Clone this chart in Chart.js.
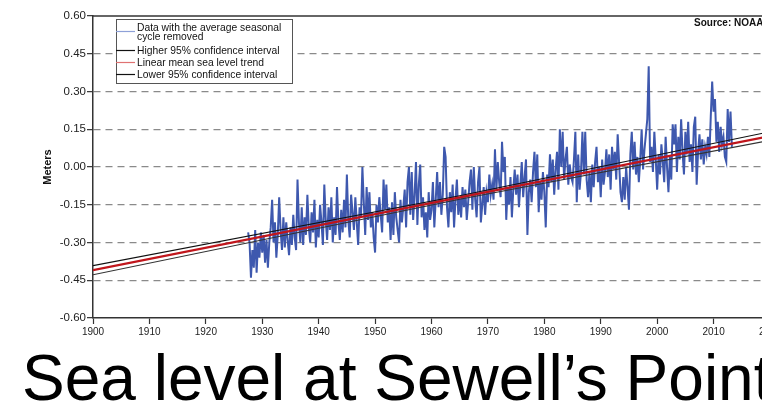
<!DOCTYPE html>
<html lang="en">
<head>
  <meta charset="UTF-8">
  <title>Sea level at Sewell's Point</title>
  <script src="https://cdn.jsdelivr.net/npm/chart.js"></script>
  <style>
    html, body {
      margin: 0;
      padding: 0;
      background: #fff;
      overflow: hidden;
    }

    body {
      width: 762px;
      height: 416px;
      position: relative;
      font-family: "Liberation Sans", Arial, sans-serif;
    }

    .chart-box {
      position: absolute;
      left: 0;
      top: 0;
      width: 800px;
      height: 345px;
    }

    #title {
      position: absolute;
      left: 22px;
      top: 346px;
      font-size: 64px;
      line-height: 64px;
      white-space: nowrap;
      color: #000;
    }
  </style>
</head>
<body>

  <div class="chart-box"><canvas id="seaChart"></canvas></div>
  <div id="title">Sea level at Sewell’s Point</div>

  <script>
  // monthly mean sea level, seasonal cycle removed (read roughly, 4 samples per year)
  const mslStart = 1927.5;
  const perYear = 4;
  const msl = [
    -0.26, -0.30,
    -0.44, -0.33, -0.40, -0.25,   // 1928
    -0.42, -0.30, -0.36, -0.26,
    -0.34, -0.27, -0.38, -0.29,   // 1930
    -0.40, -0.30, -0.24, -0.13,
    -0.30, -0.22, -0.36, -0.27,
    -0.12, -0.25, -0.33, -0.20,
    -0.32, -0.22, -0.29, -0.35,
    -0.24, -0.31, -0.19, -0.28,
    -0.33, -0.05, -0.22, -0.30,
    -0.16, -0.31, -0.20, -0.27,
    -0.11, -0.24, -0.30, -0.18,
    -0.26, -0.13, -0.32, -0.21,
    -0.28, -0.15, -0.22, -0.31,   // 1940
    -0.07, -0.21, -0.29, -0.16,
    -0.25, -0.12, -0.30, -0.20,
    -0.27, -0.08, -0.22, -0.29,
    -0.17, -0.26, -0.13, -0.24,
    -0.03, -0.21, -0.28, -0.11,
    -0.18, -0.25, -0.12, -0.22,
    -0.31, -0.16, -0.20, -0.00,
    -0.14, -0.27, -0.08, -0.21,
    -0.10, -0.24, -0.18, -0.28,
    -0.34, -0.15, -0.22, -0.12,   // 1950
    -0.19, -0.26, -0.05, -0.17,
    -0.07, -0.22, -0.16, -0.29,
    -0.14, -0.27, -0.10, -0.20,
    -0.25, -0.30, -0.13, -0.22,
    -0.16, -0.09, -0.24, -0.06,
     0.00, -0.19, -0.02, -0.21,
    -0.11,  0.02, -0.23, -0.07,
     0.01, -0.20, -0.12, -0.25,
    -0.18, -0.28, -0.10, -0.21,
    -0.17, -0.06, -0.24, -0.13,   // 1960
    -0.02, -0.16, -0.06, -0.19,
    -0.11,  0.08,  0.04, -0.16,
    -0.24, -0.10, -0.18, -0.07,
    -0.24, -0.13, -0.05, -0.19,
    -0.12, -0.20, -0.08, -0.16,
    -0.09, -0.21, -0.14, -0.06,
    -0.01, -0.17,  0.00, -0.13,
    -0.20, -0.06,  0.00, -0.22,
    -0.15, -0.08, -0.19, -0.10,
    -0.14, -0.03, -0.11, -0.07,   // 1970
    -0.13,  0.07, -0.09,  0.02,
    -0.06, -0.12,  0.10, -0.02,
     0.04, -0.21, -0.08, -0.15,
    -0.04, -0.20, -0.09, -0.01,
    -0.11, -0.03, -0.16, -0.07,
     0.02, -0.12, -0.04,  0.03,
    -0.27, -0.10, -0.05, -0.14,
    -0.02,  0.06, -0.08,  0.05,
    -0.18, -0.06, -0.13, -0.02,
    -0.10, -0.24, -0.03, -0.08,   // 1980
     0.05, -0.06,  0.03, -0.11,
    -0.01,  0.06, -0.09,  0.15,
     0.00,  0.14, -0.05,  0.03,
     0.08, -0.07,  0.01, -0.04,
    -0.06,  0.03,  0.14, -0.14,
     0.05, -0.09, -0.02,  0.14,
    -0.03,  0.14, -0.05, -0.12,
    -0.02, -0.14,  0.01, -0.08,
     0.02,  0.08, -0.06,  0.00,
    -0.12,  0.03, -0.07, -0.02,   // 1990
     0.07, -0.04,  0.05, -0.09,
     0.08, -0.01,  0.06, -0.05,
     0.13,  0.02, -0.10, -0.14,
    -0.04, -0.13,  0.00, -0.08,
    -0.17,  0.05,  0.14, -0.01,
     0.10, -0.03,  0.04, -0.06,
     0.03,  0.15, -0.01,  0.07,
     0.13,  0.19,  0.40,  0.02,
     0.08, -0.02,  0.14,  0.03,
    -0.09,  0.05, -0.03,  0.09,   // 2000
     0.02, -0.06,  0.12,  0.00,
    -0.10,  0.04, -0.05,  0.17,
     0.09,  0.17, -0.02,  0.12,
     0.03,  0.19,  0.06, -0.03,
     0.14,  0.05,  0.18,  0.02,
     0.09, -0.02,  0.16,  0.20,
    -0.07,  0.06,  0.13,  0.03,
     0.11,  0.01,  0.08,  0.05,
     0.12,  0.04,  0.20,  0.34,
     0.22,  0.27,  0.10,  0.18,   // 2010
     0.06,  0.16,  0.09,  0.12,
     0.04,  0.02,  0.23,  0.10,
     0.22,  0.08
  ];

  // linear trend and its 95% confidence band
  const trendYears = [1900, 1965, 2020];
  const trendMean  = [-0.410, -0.121, 0.123];
  const trendUpper = [-0.392, -0.114, 0.140];
  const trendLower = [-0.428, -0.128, 0.106];

  const seriesLabels = [
    "Data with the average seasonal\ncycle removed",
    "Higher 95% confidence interval",
    "Linear mean sea level trend",
    "Lower 95% confidence interval"
  ];

  const xTickValues = [1900, 1910, 1920, 1930, 1940, 1950, 1960, 1970, 1980, 1990, 2000, 2010, 2020];
  const yTickValues = [-0.60, -0.45, -0.30, -0.15, 0.00, 0.15, 0.30, 0.45, 0.60];

  const FONT = "'Liberation Sans', Arial, sans-serif";
  Chart.defaults.font.family = FONT;
  Chart.defaults.color = "#222";

  function points(xs, ys) {
    return ys.map((y, i) => ({ x: xs[i], y: y }));
  }

  const mslPoints = msl.map((v, i) => ({ x: mslStart + i / perYear, y: v }));

  // legend box drawn like the original (white box, small line samples)
  const legendBox = {
    id: "legendBox",
    afterDatasetsDraw(chart) {
      const ctx = chart.ctx;
      ctx.save();
      ctx.fillStyle = "#fff";
      ctx.fillRect(116.5, 19.5, 176, 64);
      ctx.strokeStyle = "#555";
      ctx.lineWidth = 1;
      ctx.strokeRect(116.5, 19.5, 176, 64);

      const samples = [
        { color: "#8ea1d8", y: 31, base: [30.7, 40] },
        { color: "#111",    y: 50, base: [54] },
        { color: "#e07272", y: 62, base: [66] },
        { color: "#111",    y: 74, base: [77.7] }
      ];
      ctx.font = "10.3px " + FONT;
      ctx.textBaseline = "alphabetic";
      ctx.textAlign = "left";
      samples.forEach((s, i) => {
        ctx.strokeStyle = s.color;
        ctx.lineWidth = 1.2;
        ctx.beginPath();
        ctx.moveTo(116, s.y + 0.5);
        ctx.lineTo(135, s.y + 0.5);
        ctx.stroke();
        ctx.fillStyle = "#111";
        seriesLabels[i].split("\n").forEach((line, j) => {
          ctx.fillText(line, 137, s.base[j]);
        });
      });
      ctx.restore();
    },
    afterDraw(chart) {
      const ctx = chart.ctx;
      const area = chart.chartArea;
      ctx.save();
      // top frame line
      ctx.strokeStyle = "#333";
      ctx.lineWidth = 1.5;
      ctx.beginPath();
      ctx.moveTo(area.left, area.top);
      ctx.lineTo(area.right, area.top);
      ctx.stroke();
      // source note
      ctx.fillStyle = "#111";
      ctx.font = "bold 10px " + FONT;
      ctx.textBaseline = "alphabetic";
      ctx.fillText("Source: NOAA", 694, 26);
      ctx.restore();
    }
  };

  const ctx = document.getElementById("seaChart").getContext("2d");
  const chart = new Chart(ctx, {
    type: "line",
    data: {
      datasets: [
        {
          label: seriesLabels[0],
          data: mslPoints,
          borderColor: "#3e58ae",
          borderWidth: 2,
          pointRadius: 0,
          tension: 0,
          order: 10
        },
        {
          label: seriesLabels[1],
          data: points(trendYears, trendUpper),
          borderColor: "#111",
          borderWidth: 1.1,
          pointRadius: 0,
          order: 3
        },
        {
          label: seriesLabels[2],
          data: points(trendYears, trendMean),
          borderColor: "#c0161c",
          borderWidth: 2.2,
          pointRadius: 0,
          order: 2
        },
        {
          label: seriesLabels[3],
          data: points(trendYears, trendLower),
          borderColor: "#333",
          borderWidth: 1.1,
          pointRadius: 0,
          order: 3
        }
      ]
    },
    options: {
      responsive: true,
      maintainAspectRatio: false,
      animation: false,
      layout: { padding: { left: 0, top: 16, right: 30, bottom: 0 } },
      plugins: {
        legend: { display: false },
        tooltip: { enabled: false }
      },
      scales: {
        x: {
          type: "linear",
          min: 1900,
          max: 2020,
          afterBuildTicks: s => { s.ticks = xTickValues.map(v => ({ value: v })); },
          afterFit: s => { s.height = 27; },
          ticks: {
            autoSkip: false,
            maxRotation: 0,
            padding: 2,
            color: "#222",
            font: { size: 10 },
            callback: v => String(v)
          },
          grid: {
            drawOnChartArea: false,
            drawTicks: true,
            tickLength: 6,
            tickColor: "#333",
            tickWidth: 1.2
          },
          border: { color: "#333", width: 1.5 }
        },
        y: {
          min: -0.6,
          max: 0.6,
          afterBuildTicks: s => { s.ticks = yTickValues.map(v => ({ value: v })); },
          afterFit: s => { s.width = 93; },
          ticks: {
            padding: 1,
            color: "#222",
            font: { size: 11.5 },
            callback: v => (Math.abs(v) < 1e-9 ? 0 : v).toFixed(2)
          },
          grid: {
            color: c => (c.tick && Math.abs(Math.abs(c.tick.value) - 0.6) < 1e-9) ? "rgba(0,0,0,0)" : "#8a8a8a",
            lineWidth: 1.3,
            drawTicks: true,
            tickLength: 6,
            tickColor: "#333",
            tickWidth: 1.2,
            tickBorderDash: []
          },
          border: { color: "#333", width: 1.5, dash: [7, 5] },
          title: {
            display: true,
            text: "Meters",
            color: "#111",
            font: { size: 11, weight: "bold" },
            padding: { top: 41, bottom: 0 }
          }
        }
      }
    },
    plugins: [legendBox]
  });
  </script>
</body>
</html>
